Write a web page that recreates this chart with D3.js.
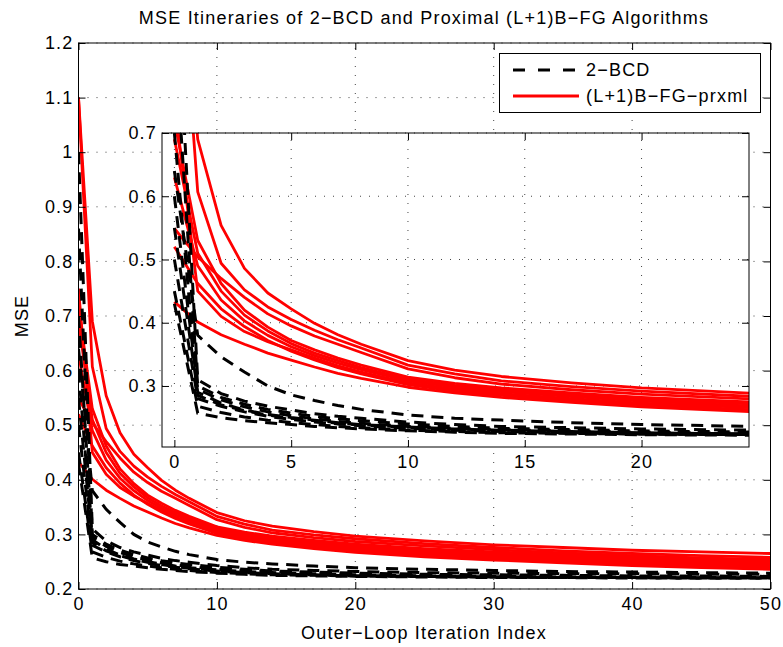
<!DOCTYPE html>
<html>
<head>
<meta charset="utf-8">
<script src="https://cdn.jsdelivr.net/npm/d3@7"></script>
<style>
  body { margin: 0; background: #fff; }
  text { font-family: "Liberation Sans", Arial, Helvetica, sans-serif; letter-spacing: 1.2px; }
</style>
</head>
<body>
<svg id="chart" width="783" height="647"></svg>
<script>
// outer-loop iteration index at which each MSE value was read
const iterations = [0, 1, 2, 3, 4, 5, 6, 7, 8, 10, 12, 14, 17, 20, 25, 30, 35, 40, 45, 50]

// 2-BCD runs (black dashed)
const bcdRuns = [
  [1.00, 0.310, 0.288, 0.276, 0.268, 0.262, 0.256, 0.252, 0.249, 0.243, 0.239, 0.236, 0.234, 0.232, 0.230, 0.229, 0.228, 0.228, 0.227, 0.227],
  [0.64, 0.380, 0.346, 0.322, 0.300, 0.286, 0.277, 0.269, 0.263, 0.254, 0.249, 0.246, 0.242, 0.239, 0.236, 0.234, 0.232, 0.231, 0.230, 0.229],
  [0.86, 0.300, 0.282, 0.271, 0.263, 0.257, 0.252, 0.248, 0.245, 0.240, 0.236, 0.233, 0.231, 0.229, 0.227, 0.226, 0.225, 0.224, 0.224, 0.223],
  [0.60, 0.295, 0.278, 0.267, 0.259, 0.253, 0.248, 0.244, 0.241, 0.236, 0.233, 0.231, 0.229, 0.227, 0.225, 0.224, 0.223, 0.223, 0.222, 0.222],
  [0.55, 0.290, 0.273, 0.262, 0.255, 0.250, 0.246, 0.242, 0.239, 0.235, 0.232, 0.230, 0.228, 0.226, 0.224, 0.223, 0.222, 0.222, 0.221, 0.221],
  [0.50, 0.280, 0.268, 0.259, 0.252, 0.247, 0.243, 0.240, 0.237, 0.233, 0.230, 0.228, 0.226, 0.224, 0.223, 0.222, 0.221, 0.221, 0.220, 0.220],
  [0.45, 0.268, 0.258, 0.251, 0.246, 0.242, 0.239, 0.236, 0.234, 0.230, 0.228, 0.226, 0.225, 0.224, 0.223, 0.222, 0.221, 0.221, 0.220, 0.220],
  [0.43, 0.257, 0.250, 0.245, 0.242, 0.239, 0.236, 0.234, 0.232, 0.229, 0.227, 0.225, 0.224, 0.223, 0.222, 0.221, 0.221, 0.220, 0.220, 0.220],
  [0.70, 0.285, 0.270, 0.261, 0.254, 0.249, 0.245, 0.241, 0.238, 0.234, 0.231, 0.229, 0.227, 0.225, 0.224, 0.223, 0.222, 0.222, 0.221, 0.221]
]

// (L+1)B-FG-prxml runs (red solid)
const fgRuns = [
  [1.10, 0.690, 0.554, 0.486, 0.447, 0.422, 0.399, 0.381, 0.366, 0.340, 0.325, 0.315, 0.305, 0.297, 0.288, 0.281, 0.276, 0.271, 0.268, 0.265],
  [1.10, 0.607, 0.494, 0.452, 0.425, 0.405, 0.388, 0.373, 0.360, 0.333, 0.319, 0.308, 0.299, 0.292, 0.283, 0.276, 0.270, 0.265, 0.261, 0.258],
  [0.549, 0.504, 0.470, 0.440, 0.414, 0.395, 0.379, 0.366, 0.353, 0.327, 0.313, 0.303, 0.294, 0.287, 0.279, 0.272, 0.266, 0.261, 0.257, 0.254],
  [0.433, 0.401, 0.381, 0.366, 0.352, 0.341, 0.330, 0.320, 0.312, 0.298, 0.289, 0.282, 0.274, 0.267, 0.259, 0.253, 0.248, 0.243, 0.239, 0.236],
  [0.520, 0.462, 0.422, 0.394, 0.372, 0.355, 0.341, 0.329, 0.319, 0.302, 0.292, 0.285, 0.277, 0.270, 0.262, 0.256, 0.251, 0.246, 0.242, 0.239],
  [0.750, 0.450, 0.410, 0.386, 0.370, 0.357, 0.344, 0.332, 0.322, 0.305, 0.295, 0.288, 0.280, 0.273, 0.265, 0.259, 0.254, 0.249, 0.245, 0.242],
  [0.630, 0.490, 0.436, 0.403, 0.380, 0.362, 0.348, 0.336, 0.326, 0.308, 0.298, 0.291, 0.283, 0.276, 0.268, 0.262, 0.257, 0.252, 0.248, 0.245],
  [0.690, 0.510, 0.450, 0.412, 0.387, 0.367, 0.352, 0.340, 0.329, 0.311, 0.301, 0.294, 0.286, 0.279, 0.271, 0.265, 0.260, 0.255, 0.251, 0.248],
  [0.720, 0.530, 0.462, 0.420, 0.393, 0.372, 0.357, 0.344, 0.333, 0.314, 0.304, 0.297, 0.289, 0.282, 0.274, 0.268, 0.263, 0.258, 0.254, 0.251]
]

const mainXTicks = [0, 10, 20, 30, 40, 50]
const mainYTicks = [0.2, 0.3, 0.4, 0.5, 0.6, 0.7, 0.8, 0.9, 1, 1.1, 1.2]
const insetXTicks = [0, 5, 10, 15, 20]
const insetYTicks = [0.3, 0.4, 0.5, 0.6, 0.7]
const legendLabels = ['2\u2212BCD', '(L+1)B\u2212FG\u2212prxml']
const titleText = 'MSE Itineraries of 2\u2212BCD and Proximal (L+1)B\u2212FG Algorithms'

const svg = d3.select('#chart')
const fontSize = 18
const tickLen = 7

// draws one set of MATLAB-style axes (box, inward ticks, dotted grid, curves)
function drawPanel (id, box, xDomain, yDomain, xTicks, yTicks) {
  const x = d3.scaleLinear().domain(xDomain).range([box.left, box.right])
  const y = d3.scaleLinear().domain(yDomain).range([box.bottom, box.top])
  const w = box.right - box.left
  const h = box.bottom - box.top
  const g = svg.append('g').attr('class', id)

  g.append('rect')
    .attr('x', box.left).attr('y', box.top).attr('width', w).attr('height', h)
    .attr('fill', '#fff')

  g.append('clipPath').attr('id', 'clip-' + id)
    .append('rect')
    .attr('x', box.left).attr('y', box.top).attr('width', w).attr('height', h)

  // dotted grid
  const grid = g.append('g').attr('stroke', '#444').attr('stroke-width', 1)
    .attr('stroke-dasharray', '1,8')
  grid.selectAll('.gx').data(xTicks).enter().append('line')
    .attr('x1', d => x(d)).attr('x2', d => x(d))
    .attr('y1', box.bottom).attr('y2', box.top)
  grid.selectAll('.gy').data(yTicks).enter().append('line')
    .attr('x1', box.left).attr('x2', box.right)
    .attr('y1', d => y(d)).attr('y2', d => y(d))

  const line = d3.line()
    .x((d, i) => x(iterations[i]))
    .y(d => y(d))

  const curves = g.append('g').attr('clip-path', 'url(#clip-' + id + ')')
  curves.selectAll('path.fg').data(fgRuns).enter().append('path')
    .attr('class', 'fg')
    .attr('d', line)
    .attr('fill', 'none')
    .attr('stroke', '#ff0000')
    .attr('stroke-width', 2.8)
    .attr('stroke-linejoin', 'round')
  curves.selectAll('path.bcd').data(bcdRuns).enter().append('path')
    .attr('class', 'bcd')
    .attr('d', line)
    .attr('fill', 'none')
    .attr('stroke', '#000')
    .attr('stroke-width', 3)
    .attr('stroke-dasharray', '12,8')

  const fmt = d => String(d)
  g.append('g')
    .attr('transform', 'translate(0,' + box.bottom + ')')
    .call(d3.axisBottom(x).tickValues(xTicks).tickFormat(fmt)
      .tickSizeInner(-tickLen).tickSizeOuter(0).tickPadding(8))
  g.append('g')
    .attr('transform', 'translate(0,' + box.top + ')')
    .call(d3.axisTop(x).tickValues(xTicks).tickFormat('')
      .tickSizeInner(-tickLen).tickSizeOuter(0))
  g.append('g')
    .attr('transform', 'translate(' + box.left + ',0)')
    .call(d3.axisLeft(y).tickValues(yTicks).tickFormat(fmt)
      .tickSizeInner(-tickLen).tickSizeOuter(0).tickPadding(5))
  g.append('g')
    .attr('transform', 'translate(' + box.right + ',0)')
    .call(d3.axisRight(y).tickValues(yTicks).tickFormat('')
      .tickSizeInner(-tickLen).tickSizeOuter(0))

  g.selectAll('.domain').remove()
  g.selectAll('.tick line').attr('stroke', '#000')
  g.selectAll('.tick text')
    .attr('fill', '#000')
    .style('font-size', fontSize + 'px')
    .style('font-family', '"Liberation Sans", Arial, sans-serif')

  g.append('rect')
    .attr('x', box.left).attr('y', box.top).attr('width', w).attr('height', h)
    .attr('fill', 'none').attr('stroke', '#000').attr('stroke-width', 1)
}

drawPanel('main', { left: 78.5, right: 770.5, top: 43, bottom: 589 },
  [0, 50], [0.2, 1.2], mainXTicks, mainYTicks)

drawPanel('inset', { left: 162, right: 749, top: 133, bottom: 447 },
  [-0.53, 24.6], [0.2035, 0.7], insetXTicks, insetYTicks)

// title and axis labels
svg.append('text')
  .attr('x', 424).attr('y', 24)
  .attr('text-anchor', 'middle')
  .style('font-size', fontSize + 'px')
  .text(titleText)

svg.append('text')
  .attr('x', 424).attr('y', 639)
  .attr('text-anchor', 'middle')
  .style('font-size', fontSize + 'px')
  .text('Outer\u2212Loop Iteration Index')

svg.append('text')
  .attr('transform', 'translate(28,316) rotate(-90)')
  .attr('text-anchor', 'middle')
  .style('font-size', fontSize + 'px')
  .text('MSE')

// legend
const legend = svg.append('g').attr('class', 'legend')
legend.append('rect')
  .attr('x', 499.5).attr('y', 53.5).attr('width', 261).attr('height', 59)
  .attr('fill', '#fff').attr('stroke', '#000').attr('stroke-width', 1)

const legendStyles = [
  { stroke: '#000', dash: '12,13', width: 3.2 },
  { stroke: '#ff0000', dash: null, width: 3 }
]
legendLabels.forEach((label, i) => {
  const yy = 70 + i * 26
  legend.append('line')
    .attr('x1', 513).attr('x2', 579).attr('y1', yy).attr('y2', yy)
    .attr('stroke', legendStyles[i].stroke)
    .attr('stroke-width', legendStyles[i].width)
    .attr('stroke-dasharray', legendStyles[i].dash)
  legend.append('text')
    .attr('x', 586).attr('y', yy + 6)
    .style('font-size', fontSize + 'px')
    .text(label)
})
</script>
</body>
</html>
